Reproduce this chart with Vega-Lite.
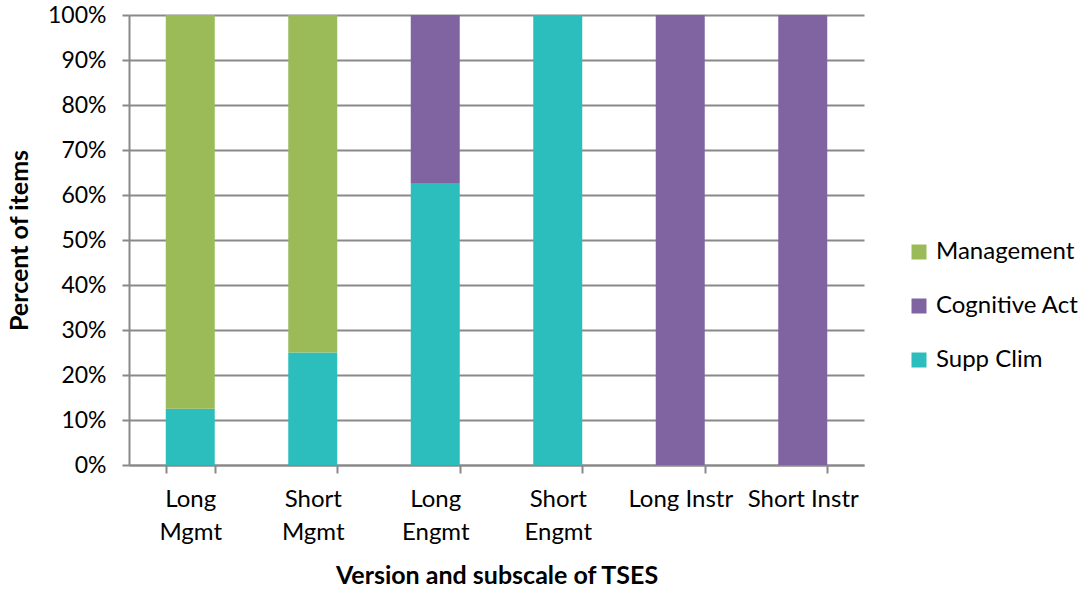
{
  "$schema": "https://vega.github.io/schema/vega-lite/v6.json",
  "width": 735,
  "height": 450,
  "autosize": {"type": "none"},
  "padding": {"left": 129, "top": 15, "right": 225, "bottom": 124},
  "background": "white",
  "config": {
    "view": {"stroke": null},
    "font": "Lato"
  },
  "data": {
    "values": [
      {"subscale": "Long Mgmt", "category": "Supp Clim", "order": 1, "percent": 12.5},
      {"subscale": "Long Mgmt", "category": "Management", "order": 3, "percent": 87.5},
      {"subscale": "Short Mgmt", "category": "Supp Clim", "order": 1, "percent": 25},
      {"subscale": "Short Mgmt", "category": "Management", "order": 3, "percent": 75},
      {"subscale": "Long Engmt", "category": "Supp Clim", "order": 1, "percent": 62.5},
      {"subscale": "Long Engmt", "category": "Cognitive Act", "order": 2, "percent": 37.5},
      {"subscale": "Short Engmt", "category": "Supp Clim", "order": 1, "percent": 100},
      {"subscale": "Long Instr", "category": "Cognitive Act", "order": 2, "percent": 100},
      {"subscale": "Short Instr", "category": "Cognitive Act", "order": 2, "percent": 100}
    ]
  },
  "mark": {"type": "bar"},
  "encoding": {
    "x": {
      "field": "subscale",
      "type": "nominal",
      "sort": ["Long Mgmt", "Short Mgmt", "Long Engmt", "Short Engmt", "Long Instr", "Short Instr"],
      "scale": {"paddingInner": 0.6, "paddingOuter": 0.3},
      "axis": {
        "title": "Version and subscale of TSES",
        "titleFont": "Lato",
        "titleFontSize": 25,
        "titleFontWeight": "bold",
        "titleColor": "#000000",
        "titleY": 118,
        "titleBaseline": "alphabetic",
        "labelAngle": 0,
        "labelFont": "Lato",
        "labelFontSize": 24,
        "labelColor": "#000000",
        "labelLineHeight": 33,
        "labelPadding": 14,
        "labelBaseline": "top",
        "labelExpr": "!isString(datum.value) ? '' : (datum.value == 'Long Instr' || datum.value == 'Short Instr' ? datum.value : split(datum.value, ' '))",
        "tickBand": "extent",
        "tickSize": 8,
        "tickColor": "#898989",
        "tickWidth": 2,
        "domainColor": "#898989",
        "domainWidth": 2,
        "grid": false
      }
    },
    "y": {
      "field": "percent",
      "type": "quantitative",
      "stack": "zero",
      "scale": {"domain": [0, 100], "nice": false},
      "axis": {
        "title": "Percent of items",
        "titleFont": "Lato",
        "titleFontSize": 25,
        "titleFontWeight": "bold",
        "titleColor": "#000000",
        "titleX": -110,
        "titleY": 225,
        "titleBaseline": "middle",
        "titleAlign": "center",
        "titleAngle": -90,
        "values": [0, 10, 20, 30, 40, 50, 60, 70, 80, 90, 100],
        "labelExpr": "datum.value + '%'",
        "labelFont": "Lato",
        "labelFontSize": 23,
        "labelColor": "#000000",
        "labelPadding": 16,
        "tickSize": 7,
        "tickColor": "#898989",
        "tickWidth": 2,
        "domainColor": "#898989",
        "domainWidth": 2,
        "grid": true,
        "gridColor": "#898989",
        "gridWidth": 2
      }
    },
    "color": {
      "field": "category",
      "type": "nominal",
      "scale": {
        "domain": ["Management", "Cognitive Act", "Supp Clim"],
        "range": ["#9BBB59", "#8064A2", "#2CBEBC"]
      },
      "legend": {
        "title": null,
        "orient": "none",
        "legendX": 778,
        "legendY": 225,
        "symbolType": "square",
        "symbolSize": 225,
        "symbolStrokeWidth": 0,
        "labelFont": "Lato",
        "labelFontSize": 24,
        "labelColor": "#000000",
        "labelOffset": 5,
        "rowPadding": 30
      }
    },
    "order": {"field": "order", "type": "quantitative", "sort": "ascending"}
  }
}
